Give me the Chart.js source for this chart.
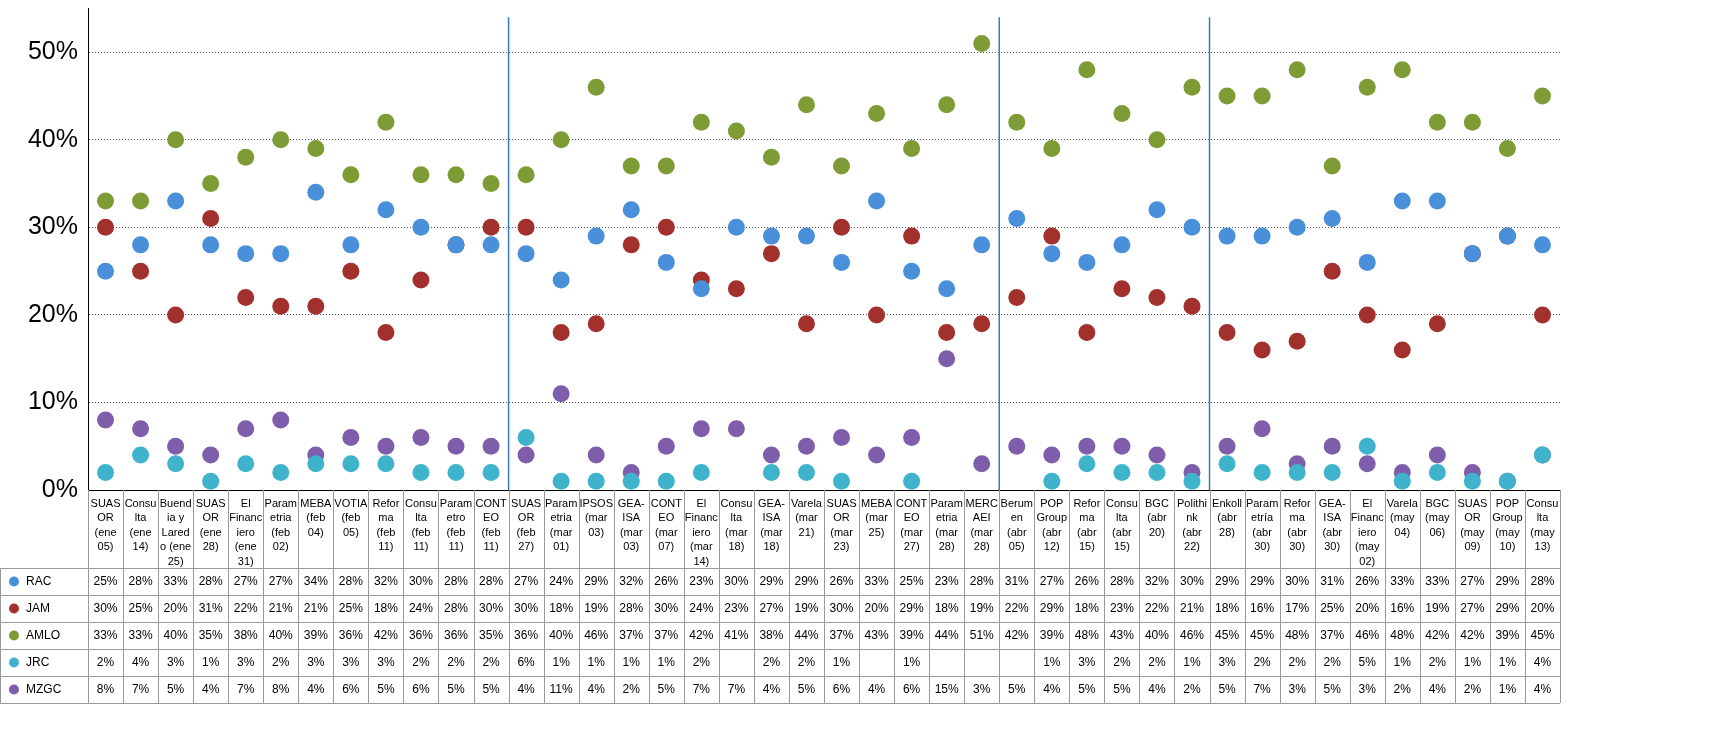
<!DOCTYPE html>
<html>
<head>
<meta charset="utf-8">
<script src="https://cdn.jsdelivr.net/npm/chart.js@4.4.1/dist/chart.umd.min.js"></script>
<style>
  html, body { margin: 0; padding: 0; background: #fff; }
  #wrap { width: 1713px; height: 751px; }
</style>
</head>
<body>
<div id="wrap"><canvas id="c" width="1713" height="751"></canvas></div>
<script>
// Encuestas (etiquetas partidas como en la tabla)
var categories = [
  ["SUAS","OR","(ene","05)"], ["Consu","lta","(ene","14)"], ["Buend","ia y","Lared","o (ene","25)"],
  ["SUAS","OR","(ene","28)"], ["El","Financ","iero","(ene","31)"], ["Param","etria","(feb","02)"],
  ["MEBA","(feb","04)"], ["VOTIA","(feb","05)"], ["Refor","ma","(feb","11)"],
  ["Consu","lta","(feb","11)"], ["Param","etro","(feb","11)"], ["CONT","EO","(feb","11)"],
  ["SUAS","OR","(feb","27)"], ["Param","etria","(mar","01)"], ["IPSOS","(mar","03)"],
  ["GEA-","ISA","(mar","03)"], ["CONT","EO","(mar","07)"], ["El","Financ","iero","(mar","14)"],
  ["Consu","lta","(mar","18)"], ["GEA-","ISA","(mar","18)"], ["Varela","(mar","21)"],
  ["SUAS","OR","(mar","23)"], ["MEBA","(mar","25)"], ["CONT","EO","(mar","27)"],
  ["Param","etria","(mar","28)"], ["MERC","AEI","(mar","28)"], ["Berum","en","(abr","05)"],
  ["POP","Group","(abr","12)"], ["Refor","ma","(abr","15)"], ["Consu","lta","(abr","15)"],
  ["BGC","(abr","20)"], ["Polithi","nk","(abr","22)"], ["Enkoll","(abr","28)"],
  ["Param","etría","(abr","30)"], ["Refor","ma","(abr","30)"], ["GEA-","ISA","(abr","30)"],
  ["El","Financ","iero","(may","02)"], ["Varela","(may","04)"], ["BGC","(may","06)"],
  ["SUAS","OR","(may","09)"], ["POP","Group","(may","10)"], ["Consu","lta","(may","13)"]
];

var rac  = [25,28,33,28,27,27,34,28,32,30,28,28, 27,24,29,32,26,23,30,29,29,26,33,25,23,28, 31,27,26,28,32,30, 29,29,30,31,26,33,33,27,29,28];
var jam  = [30,25,20,31,22,21,21,25,18,24,28,30, 30,18,19,28,30,24,23,27,19,30,20,29,18,19, 22,29,18,23,22,21, 18,16,17,25,20,16,19,27,29,20];
var amlo = [33,33,40,35,38,40,39,36,42,36,36,35, 36,40,46,37,37,42,41,38,44,37,43,39,44,51, 42,39,48,43,40,46, 45,45,48,37,46,48,42,42,39,45];
var jrc  = [2,4,3,1,3,2,3,3,3,2,2,2, 6,1,1,1,1,2,null,2,2,1,null,1,null,null, null,1,3,2,2,1, 3,2,2,2,5,1,2,1,1,4];
var mzgc = [8,7,5,4,7,8,4,6,5,6,5,5, 4,11,4,2,5,7,7,4,5,6,4,6,15,3, 5,4,5,5,4,2, 5,7,3,5,3,2,4,2,1,4];

var seriesNames = ["RAC", "JAM", "AMLO", "JRC", "MZGC"];
var seriesData = [rac, jam, amlo, jrc, mzgc];
var seriesColors = ["#4A8FDA", "#A2312D", "#7E9C35", "#3FB3CC", "#7E5DAA"];
var dividers = [12, 26, 32]; // índice de la primera encuesta tras cada línea

var ROW_TOP = 568, ROW_H = 27, LABEL_TOP = 490;

var tablePlugin = {
  id: "tabla",
  afterDraw: function (chart) {
    var ctx = chart.ctx, x = chart.scales.x, y = chart.scales.y;
    var left = chart.chartArea.left, right = chart.chartArea.right;
    var n = categories.length;
    var w = (right - left) / n;
    ctx.save();
    // líneas divisorias azules
    ctx.strokeStyle = "#3A78C2"; ctx.lineWidth = 1.5;
    dividers.forEach(function (d) {
      var px = left + d * w;
      ctx.beginPath(); ctx.moveTo(px, y.getPixelForValue(54)); ctx.lineTo(px, y.bottom); ctx.stroke();
    });
    // rejilla de la tabla
    var bottom = ROW_TOP + ROW_H * 5;
    ctx.strokeStyle = "#999"; ctx.lineWidth = 1;
    for (var i = 0; i <= n; i++) {
      var px = Math.round(left + i * w) + 0.5;
      ctx.beginPath(); ctx.moveTo(px, LABEL_TOP); ctx.lineTo(px, bottom); ctx.stroke();
    }
    for (var r = 0; r <= 5; r++) {
      var py = ROW_TOP + r * ROW_H + 0.5;
      ctx.beginPath(); ctx.moveTo(0, py); ctx.lineTo(right, py); ctx.stroke();
    }
    ctx.beginPath(); ctx.moveTo(0.5, ROW_TOP); ctx.lineTo(0.5, bottom); ctx.stroke();
    // etiquetas de las encuestas
    ctx.fillStyle = "#000"; ctx.textAlign = "center"; ctx.textBaseline = "top";
    ctx.font = "11px 'Liberation Sans', Arial, sans-serif";
    categories.forEach(function (lines, i) {
      var cx = x.getPixelForValue(i);
      lines.forEach(function (t, k) { ctx.fillText(t, cx, LABEL_TOP + 8 + k * 14.5); });
    });
    // filas de valores
    ctx.textBaseline = "middle";
    seriesNames.forEach(function (name, r) {
      var cy = ROW_TOP + r * ROW_H + ROW_H / 2;
      ctx.fillStyle = seriesColors[r];
      ctx.beginPath(); ctx.arc(14, cy, 5, 0, Math.PI * 2); ctx.fill();
      ctx.fillStyle = "#000"; ctx.textAlign = "left";
      ctx.font = "12px 'Liberation Sans', Arial, sans-serif";
      ctx.fillText(name, 26, cy);
      ctx.textAlign = "center";
      seriesData[r].forEach(function (v, i) {
        if (v === null) return;
        ctx.fillText(v + "%", x.getPixelForValue(i), cy);
      });
    });
    ctx.restore();
  }
};

new Chart(document.getElementById("c"), {
  type: "line",
  data: {
    labels: categories.map(function (c) { return c.join(" "); }),
    datasets: seriesNames.map(function (name, i) {
      return {
        label: name,
        data: seriesData[i],
        showLine: false,
        pointRadius: 8.5,
        pointHoverRadius: 8.5,
        pointBackgroundColor: seriesColors[i],
        pointBorderColor: seriesColors[i],
        pointBorderWidth: 0,
        clip: false
      };
    })
  },
  options: {
    responsive: false,
    animation: false,
    layout: { padding: { top: 5, right: 153, bottom: 261, left: 0 } },
    plugins: { legend: { display: false }, tooltip: { enabled: false } },
    scales: {
      x: {
        offset: true,
        ticks: { display: false },
        grid: { display: false, drawTicks: false },
        border: { color: "#000", width: 1 }
      },
      y: {
        min: 0, max: 55,
        afterFit: function (s) { s.width = 88; s.paddingTop = 0; s.paddingBottom = 0; },
        afterBuildTicks: function (s) {
          s.ticks = [0, 10, 20, 30, 40, 50].map(function (v) { return { value: v }; });
        },
        ticks: {
          font: { size: 25, family: "'Liberation Sans', Arial, sans-serif" },
          color: "#000",
          padding: 10,
          callback: function (v) { return v + "%"; }
        },
        grid: {
          color: function (c) { return c.tick.value === 0 ? "rgba(0,0,0,0)" : "#555"; },
          drawTicks: false
        },
        border: { color: "#000", width: 1, dash: [1, 2] }
      }
    }
  },
  plugins: [tablePlugin]
});
</script>
</body>
</html>
